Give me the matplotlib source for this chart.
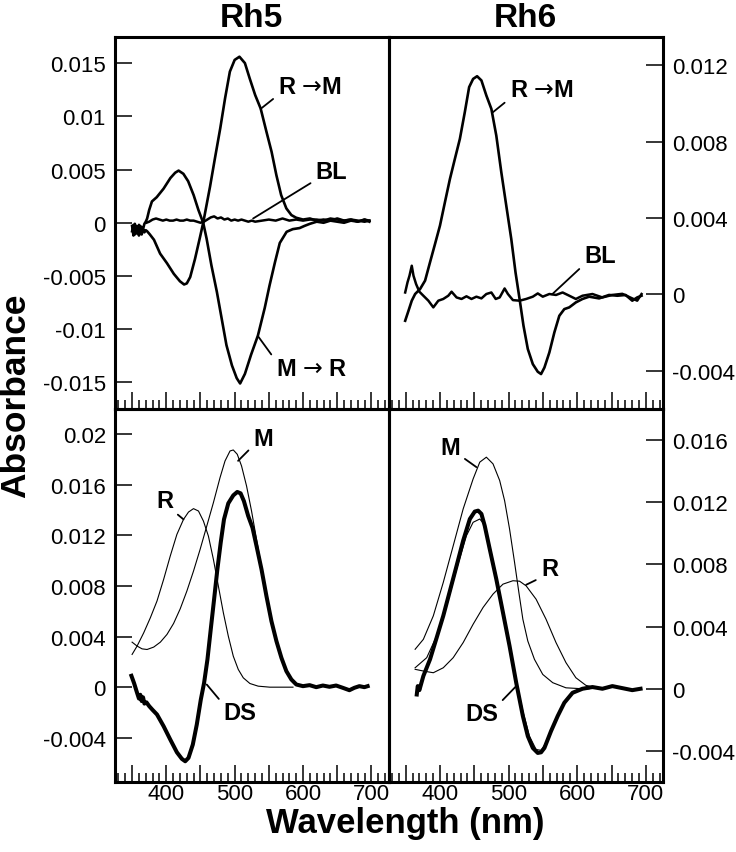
import matplotlib
matplotlib.use("Agg")
import matplotlib.pyplot as plt
from matplotlib.ticker import FixedLocator, MultipleLocator

plt.rcParams['font.family'] = ['Liberation Sans', 'DejaVu Sans']
plt.rcParams['mathtext.fontset'] = 'dejavusans'

# ---------------- data ----------------
panel_titles = ["Rh5", "Rh6"]
x_major_ticks = [350, 400, 450, 500, 550, 600, 650, 700]
x_tick_labels = ["", "400", "", "500", "", "600", "", "700"]

# top-left (Rh5 difference spectra)
tl_yticks = [-0.015, -0.01, -0.005, 0, 0.005, 0.01, 0.015]
tl_ylabels = ["-0.015", "-0.01", "-0.005", "0", "0.005", "0.01", "0.015"]
rh5_rm_wl = [350, 352, 354, 356, 358, 360, 362, 364, 366, 368, 370, 372, 376, 382, 391, 401, 411,
             420, 426, 430, 435, 442, 449.5, 454, 459, 464, 471, 479, 486, 493, 500, 507, 515,
             522, 530, 538, 546.5, 554, 561, 568, 575.6, 583, 590, 600, 610, 620, 630, 640, 650,
             660, 670, 680, 690, 697]
rh5_rm_abs = [-0.0003, -0.0012, -0.0001, -0.0010, -0.0004, -0.0012, -0.0003, -0.0011, -0.0006,
              -0.0009, -0.0007, -0.0008, -0.0011, -0.0016, -0.0029, -0.0038, -0.0048, -0.0055,
              -0.0058, -0.0057, -0.0051, -0.0034, -0.0013, 0.0, 0.0017, 0.0034, 0.0060, 0.0089,
              0.0117, 0.0142, 0.0153, 0.0156, 0.0150, 0.01356, 0.0120, 0.01074, 0.00855, 0.00667,
              0.00448, 0.0026, 0.00135, 0.00072, 0.00047, 0.0003, 0.0004, 0.0002, 0.0003, 0.0002,
              0.0004, 0.0002, 0.0003, 0.0002, 0.0001, 0.0002]
rh5_mr_wl = [350, 352, 354, 356, 358, 360, 362, 364, 366, 368, 370, 372, 375, 379, 386, 396, 406,
             413, 418, 425, 432, 440, 447, 454, 459, 466, 474, 481, 488, 496, 503, 508, 515, 524,
             534, 544, 551, 559, 566, 576, 585, 595, 602, 610, 620, 630, 640, 650, 660, 670, 680,
             690, 697]
rh5_mr_abs = [-0.0008, -0.0002, -0.0011, -0.0003, -0.0010, -0.0002, -0.0009, -0.0004, -0.0006,
              -0.0001, 0.0001, 0.0004, 0.0012, 0.0020, 0.0024, 0.0032, 0.0042, 0.0047, 0.0049,
              0.0046, 0.0039, 0.0026, 0.0012, 0.0, -0.0015, -0.0040, -0.0065, -0.0090, -0.0115,
              -0.0134, -0.0146, -0.0151, -0.0142, -0.0124, -0.0106, -0.0080, -0.0059, -0.0037,
              -0.0019, -0.00085, -0.0006, -0.0005, -0.0003, -0.0001, 0.0001, 0.0, 0.0002, 0.0001,
              0.0, 0.0002, 0.0001, 0.0003, 0.0001]
rh5_bl_wl = [371, 375, 380, 385, 390, 395, 400, 405, 410, 415, 420, 425, 430, 435, 440, 445, 450,
             455, 460, 465, 470, 475, 480, 485, 490, 495, 500, 505, 510, 515, 520, 525, 530, 540,
             550, 560, 570, 580, 590, 600, 610, 620, 630, 640, 650, 660, 670, 680, 690, 697]
rh5_bl_abs = [0.0, 0.0001, 0.0003, 0.0004, 0.0003, 0.0002, 0.0003, 0.0002, 0.0002, 0.0003, 0.0002,
              0.0002, 0.0003, 0.0002, 0.0002, 0.0001, 0.0, 0.0001, 0.0003, 0.0005, 0.0006, 0.0004,
              0.0005, 0.0003, 0.0004, 0.0002, 0.0003, 0.0002, 0.0003, 0.0002, 0.0001, 0.0002,
              0.0001, 0.0002, 0.0003, 0.0002, 0.0004, 0.0002, 0.0003, 0.0002, 0.0003, 0.0003,
              0.0002, 0.0004, 0.0003, 0.0002, 0.0003, 0.0001, 0.0003, 0.0002]

# top-right (Rh6 difference spectra)
tr_yticks = [-0.004, 0, 0.004, 0.008, 0.012]
tr_ylabels = ["-0.004", "0", "0.004", "0.008", "0.012"]
rh6_rm_wl = [349.3, 354.1, 358.9, 363.8, 371.0, 378.3, 385.5, 392.8, 400, 407.2, 414.5, 421.7,
             429, 436.2, 442.5, 448.3, 454.1, 460.4, 467.6, 474.9, 482.1, 489.4, 496.6, 503.9,
             510.1, 516, 521.7, 528, 535.3, 542.5, 547.3, 552.2, 559.4, 566.7, 573.9, 581.2,
             588.4, 598, 607.7, 617.4, 631.9, 646.4, 658.5, 670.5, 680.2, 687.4, 693.7]
rh6_rm_abs = [-0.00138, -0.00086, -0.00033, 0.00002, 0.00028, 0.00072, 0.00168, 0.00264, 0.0036,
              0.00482, 0.00604, 0.00709, 0.00814, 0.00954, 0.01085, 0.01128, 0.01142, 0.0112,
              0.01041, 0.00971, 0.00831, 0.00639, 0.00465, 0.0029, 0.00115, -0.00024, -0.00164,
              -0.00286, -0.00365, -0.00405, -0.00417, -0.00383, -0.00304, -0.00199, -0.00112,
              -0.00077, -0.00068, -0.00042, -0.00024, -0.00012, -0.00021, -0.00003, -0.00007,
              -0.00003, -0.00033, -0.00016, -0.00007]
rh6_bl_wl = [349.3, 352.7, 355.6, 358.9, 361.4, 365.2, 370, 375.8, 383.1, 390.3, 397.6, 404.8,
             412.1, 416.9, 424.2, 431.4, 438.6, 445.9, 453.1, 460.4, 467.6, 474.9, 481.2, 487,
             494.2, 499, 506.3, 516, 525.6, 535.3, 542.5, 549.8, 559.4, 569.1, 578.7, 588.4, 598,
             607.7, 622.2, 636.7, 651.2, 665.7, 680.2, 687.4, 693.7]
rh6_bl_abs = [0.0001, 0.00063, 0.00098, 0.0015, 0.00098, 0.00054, 0.00014, -0.00007, -0.00033,
              -0.00068, -0.00033, -0.00024, -0.00007, 0.00014, -0.00016, -0.00024, -0.0001,
              -0.00024, -0.00012, -0.00021, 0.00002, 0.0001, -0.00024, -0.00016, 0.00031, 0.00002,
              -0.0003, -0.00033, -0.00024, -0.00012, 0.00005, -0.00012, 0.00002, -0.00003, 0.0001,
              -0.00007, -0.00024, -0.00007, 0.00002, -0.00016, -0.00003, 0.00003, -0.00021,
              -0.00033, 0.00002]

# bottom-left (Rh5 absolute spectra)
bl_yticks = [-0.004, 0, 0.004, 0.008, 0.012, 0.016, 0.02]
bl_ylabels = ["-0.004", "0", "0.004", "0.008", "0.012", "0.016", "0.02"]
rh5_m_wl = [350, 357.3, 364.6, 371.9, 381.6, 391.3, 401, 410.7, 420.4, 430.1, 439.8, 449.5, 459.2,
            468.9, 478.6, 485.9, 493.2, 498, 503.8, 510.1, 517.4, 524.7, 532, 539.3, 546.5, 553.8,
            561.1, 568.4, 575.6, 582.9, 590.2, 599.9]
rh5_m_abs = [0.00356, 0.00325, 0.00303, 0.00298, 0.00317, 0.00356, 0.00417, 0.00504, 0.0062,
             0.0076, 0.00918, 0.0109, 0.01274, 0.01459, 0.01657, 0.01789, 0.01868, 0.01876,
             0.01842, 0.01749, 0.01591, 0.01393, 0.01169, 0.00945, 0.0072, 0.00522, 0.00364,
             0.00232, 0.00127, 0.00061, 0.00021, 0.00008]
rh5_r_wl = [350, 357.3, 367, 376.7, 386.4, 396.1, 405.8, 415.5, 425.2, 432.5, 439.8, 447.1, 454.3,
            461.6, 468.9, 476.2, 483.5, 490.7, 498, 505.3, 512.6, 522.3, 534.4, 551.4, 585.3]
rh5_r_abs = [0.00259, 0.00325, 0.0043, 0.00549, 0.00681, 0.00852, 0.01037, 0.01208, 0.01327,
             0.01385, 0.01412, 0.01393, 0.01314, 0.01195, 0.01011, 0.00799, 0.00588, 0.00404,
             0.00245, 0.0014, 0.00074, 0.00029, 0.00008, 0.0, 0.0]
rh5_ds_wl = [349, 353, 357, 360, 362, 364, 366, 368, 371, 375, 380, 386.4, 396.1, 405.8, 415.5,
             422.8, 427.7, 432.5, 438.8, 444.6, 450.5, 455.3, 460.2, 465, 469.9, 474.7, 479.6,
             484.4, 490.7, 498, 503.8, 508.7, 513.5, 519.8, 526.1, 532, 539.3, 546.5, 553.8,
             561.1, 568.4, 575.6, 582.9, 590.2, 599.9, 609.6, 619.3, 629, 638.7, 648.4, 658.1,
             667.8, 675.1, 682.4, 689.7, 694.5]
rh5_ds_abs = [0.0009, 0.0003, -0.0004, -0.0009, -0.0006, -0.0011, -0.0008, -0.0013, -0.0012,
              -0.0015, -0.0018, -0.00216, -0.00309, -0.00414, -0.00515, -0.00567, -0.00586,
              -0.00559, -0.00454, -0.00296, -0.00098, 0.00034, 0.00219, 0.00456, 0.00694,
              0.00931, 0.01143, 0.01327, 0.01454, 0.01517, 0.01544, 0.01533, 0.01472, 0.01354,
              0.01261, 0.01116, 0.00931, 0.0072, 0.00522, 0.00364, 0.00232, 0.00127, 0.00061,
              0.00021, 0.00008, 0.00016, 0.0, 0.00013, 0.00003, 0.00013, -0.00005, -0.00024,
              -0.00005, 0.00008, 0.0, 0.00008]

# bottom-right (Rh6 absolute spectra)
br_yticks = [-0.004, 0, 0.004, 0.008, 0.012, 0.016]
br_ylabels = ["-0.004", "0", "0.004", "0.008", "0.012", "0.016"]
rh6_m_wl = [363.8, 375.8, 390.3, 404.8, 419.3, 433.8, 448.3, 458, 467.6, 477.3, 487, 494.2, 501.4,
            508.7, 515, 520.8, 528, 537.7, 549.8, 564.3, 583.6, 607.7]
rh6_m_abs = [0.00254, 0.00318, 0.00469, 0.00684, 0.0092, 0.01157, 0.0135, 0.01458, 0.0149,
             0.01447, 0.0134, 0.0121, 0.01028, 0.00813, 0.00619, 0.00447, 0.00307, 0.00189,
             0.00092, 0.00039, 0.00006, 0.0]
rh6_r_wl = [363.8, 375.8, 390.3, 404.8, 419.3, 433.8, 448.3, 462.8, 477.3, 491.8, 506.3, 516,
            525.6, 540.1, 554.6, 569.1, 583.6, 598, 612.6, 631.9]
rh6_r_abs = [0.00125, 0.00114, 0.00103, 0.00135, 0.002, 0.00297, 0.00415, 0.00523, 0.00609,
             0.00673, 0.00695, 0.00692, 0.00662, 0.00576, 0.00447, 0.00297, 0.00168, 0.00071,
             0.00022, 0.0]
rh6_calc_wl = [363.8, 380.7, 395.2, 409.7, 424.2, 438.6, 448.3, 458, 465.2, 472.5, 482.1, 491.8,
               501.4, 511.1, 520.8, 530.4, 540.1, 547.3, 554.6, 564.3, 576.3, 588.4, 602.9, 617.4]
rh6_calc_abs = [0.00135, 0.002, 0.0034, 0.00533, 0.0077, 0.00985, 0.01071, 0.01092, 0.01054,
                0.0092, 0.00727, 0.00512, 0.00275, 0.00049, -0.00144, -0.00305, -0.00391,
                -0.00396, -0.00348, -0.00241, -0.00129, -0.00047, -0.00004, 0.0]
rh6_ds_wl = [366.2, 367.6, 370, 375.8, 385.5, 395.2, 404.8, 414.5, 424.2, 433.8, 443.5, 450.7,
             455.6, 460.4, 465.2, 472.5, 482.1, 491.8, 501.4, 511.1, 520.8, 528, 535.3, 542.5,
             547.3, 552.2, 561.8, 571.5, 581.2, 593.2, 607.7, 622.2, 636.7, 651.2, 665.7, 680.2,
             692.3]
rh6_ds_abs = [-0.00037, 0.00017, -0.00009, 0.00082, 0.00189, 0.00329, 0.00469, 0.0063, 0.00791,
              0.00953, 0.01092, 0.0114, 0.01146, 0.01125, 0.01049, 0.00899, 0.00705, 0.0049,
              0.00275, 0.00039, -0.00176, -0.00305, -0.00381, -0.00413, -0.00409, -0.00381,
              -0.00273, -0.00176, -0.0009, -0.00026, 0.0, 0.00011, 0.0, 0.00017, 0.00004,
              -0.00009, 0.0]

# ---------------- figure ----------------
W, H = 736.0, 853.0
fig = plt.figure(figsize=(W / 100, H / 100), dpi=100)
xl, xm, xr = 115 / W, 388.5 / W, 663 / W
yt, ym, yb = 1 - 37.5 / H, 1 - 410 / H, 1 - 783 / H

ax_tl = fig.add_axes([xl, ym, xm - xl, yt - ym])
ax_tr = fig.add_axes([xm, ym, xr - xm, yt - ym])
ax_bl = fig.add_axes([xl, yb, xm - xl, ym - yb])
ax_br = fig.add_axes([xm, yb, xr - xm, ym - yb])


def setup(ax, yticks, ylabels, ylim, left_side, bottom_row):
    ax.set_xlim(325, 725)
    ax.set_ylim(*ylim)
    ax.patch.set_alpha(0)
    ax.xaxis.set_major_locator(FixedLocator(x_major_ticks))
    ax.xaxis.set_minor_locator(MultipleLocator(10))
    ax.set_xticklabels(x_tick_labels if bottom_row else [""] * len(x_major_ticks))
    ax.yaxis.set_major_locator(FixedLocator(yticks))
    ax.set_yticklabels(ylabels)
    ax.tick_params(axis='x', which='major', direction='in', length=12.5, width=1.1,
                   top=False, bottom=True, labelsize=16, pad=0.5)
    ax.tick_params(axis='x', which='minor', direction='in', length=6.5, width=1.1,
                   top=False, bottom=True)
    ax.tick_params(axis='y', which='major', direction='in', length=12.5, width=1.1,
                   left=left_side, right=not left_side, labelleft=left_side,
                   labelright=not left_side, labelsize=16, pad=6.5)
    for s in ax.spines.values():
        s.set_linewidth(2.2)


setup(ax_tl, tl_yticks, tl_ylabels, (-0.0175, 0.0175), True, False)
setup(ax_tr, tr_yticks, tr_ylabels, (-0.0060, 0.0135), False, False)
setup(ax_bl, bl_yticks, bl_ylabels, (-0.0075, 0.0220), True, True)
setup(ax_br, br_yticks, br_ylabels, (-0.0060, 0.0180), False, True)

k = 'black'
# top-left
ax_tl.plot(rh5_bl_wl, rh5_bl_abs, color=k, lw=1.8)
ax_tl.plot(rh5_rm_wl, rh5_rm_abs, color=k, lw=1.9)
ax_tl.plot(rh5_mr_wl, rh5_mr_abs, color=k, lw=1.9)
# top-right
ax_tr.plot(rh6_bl_wl, rh6_bl_abs, color=k, lw=1.8)
ax_tr.plot(rh6_rm_wl, rh6_rm_abs, color=k, lw=1.9)
# bottom-left
ax_bl.plot(rh5_m_wl, rh5_m_abs, color=k, lw=0.8)
ax_bl.plot(rh5_r_wl, rh5_r_abs, color=k, lw=0.8)
ax_bl.plot(rh5_ds_wl, rh5_ds_abs, color=k, lw=2.9, solid_joinstyle='round')
# bottom-right
ax_br.plot(rh6_m_wl, rh6_m_abs, color=k, lw=0.8)
ax_br.plot(rh6_r_wl, rh6_r_abs, color=k, lw=0.8)
ax_br.plot(rh6_calc_wl, rh6_calc_abs, color=k, lw=0.8)
ax_br.plot(rh6_ds_wl, rh6_ds_abs, color=k, lw=2.9, solid_joinstyle='round')

lab = dict(fontsize=17, fontweight='bold', va='baseline')


def label(ax, text, xy, xytext, ha, rel):
    ax.annotate(text, xy=xy, xytext=xytext, textcoords='data', ha=ha, **lab,
                arrowprops=dict(arrowstyle='-', lw=1.3, color=k, shrinkA=2, shrinkB=0,
                                relpos=rel))


label(ax_tl, 'R $\u2192$M', (538, 0.0107), (563.5, 0.01221), 'left', (0, 0.12))
label(ax_tl, 'BL', (527, 0.0004), (618.5, 0.00416), 'left', (0, 0.15))
label(ax_tl, 'M $\u2192$ R', (534.4, -0.01068), (560, -0.01431), 'left', (0, 0.85))

label(ax_tr, 'R $\u2192$M', (477.3, 0.00954), (501.4, 0.01036), 'left', (0, 0.12))
label(ax_tr, 'BL', (563.3, 0.0), (610, 0.00168), 'left', (0, 0.12))

label(ax_bl, 'M', (505, 0.0179), (527.1, 0.01913), 'left', (0, 0.2))
label(ax_bl, 'R', (425.2, 0.01327), (409.7, 0.01427), 'right', (1, 0.05))
label(ax_bl, 'DS', (459.2, 0.00021), (483.5, -0.00251), 'left', (0, 0.85))

label(ax_br, 'M', (453.1, 0.01426), (429, 0.01512), 'right', (1, 0.15))
label(ax_br, 'R', (525.6, 0.00669), (547.3, 0.00733), 'left', (0, 0.1))
label(ax_br, 'DS', (511.1, 0.00017), (484.5, -0.00198), 'right', (1, 0.85))

ax_tl.set_title(panel_titles[0], fontsize=24, fontweight='bold', pad=7.5)
ax_tr.set_title(panel_titles[1], fontsize=24, fontweight='bold', pad=7.5)

fig.text(16 / W, 1 - 396 / H, 'Absorbance', rotation=90, ha='center', va='center',
         fontsize=25.5, fontweight='bold')
fig.text(405 / W, 1 - 833 / H, 'Wavelength (nm)', ha='center', va='baseline',
         fontsize=25, fontweight='bold')

fig.savefig('out.png', dpi=100)
